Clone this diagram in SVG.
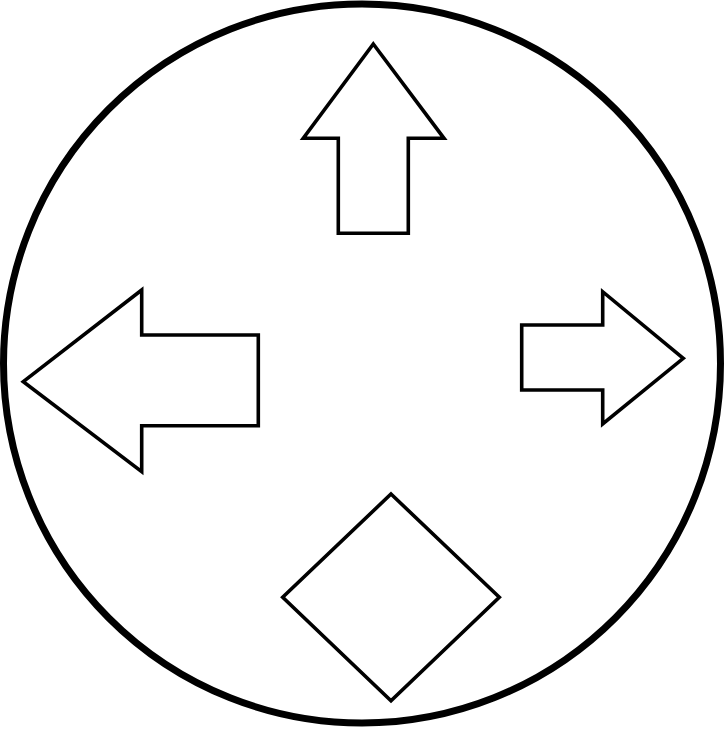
<svg xmlns="http://www.w3.org/2000/svg" width="724" height="744" viewBox="0 0 724 744">
<style>
.sh{fill:#fff;stroke:#000;stroke-width:3.6;stroke-linejoin:miter}
</style>
<rect width="724" height="744" fill="#fff"/>
<g id="circle"><ellipse cx="362" cy="363.5" rx="358.5" ry="359.5" fill="#fff" stroke="#000" stroke-width="7"/></g>
<g id="arrow-up"><polygon class="sh" points="373.3,44 444,138.3 408.3,138.3 408.3,233.3 338.3,233.3 338.3,138.3 303.3,138.3"/></g>
<g id="arrow-left"><polygon class="sh" points="23.3,381.7 141.7,290 141.7,335 258.3,335 258.3,425.7 141.7,425.7 141.7,471.7"/></g>
<g id="arrow-right"><polygon class="sh" points="683.3,358.3 602.7,291.7 602.7,325 521.7,325 521.7,390 602.7,390 602.7,424"/></g>
<g id="diamond"><polygon class="sh" points="391,494 499.3,597.3 391,700.7 282.7,597.3"/></g>
<g id="connectors"></g>
</svg>
